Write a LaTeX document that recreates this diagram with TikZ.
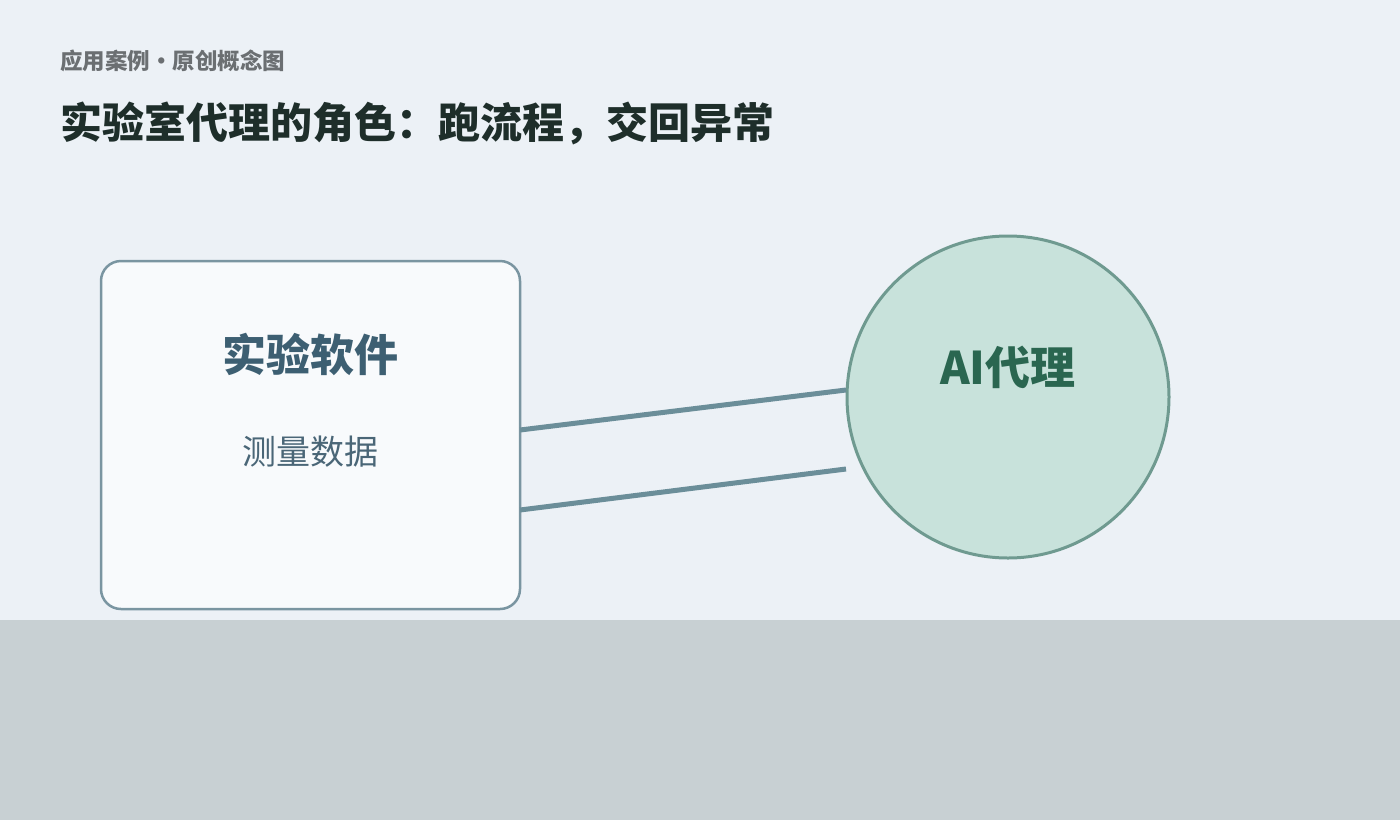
\documentclass[tikz,border=0pt]{standalone}
\usepackage{fontspec}
\setmainfont{Noto Sans CJK SC}
\usepackage{xcolor}
\usetikzlibrary{calc,positioning}
\definecolor{PageBg}{HTML}{ECF1F6}
\definecolor{BandGray}{HTML}{C8D0D3}
\definecolor{BoxFill}{HTML}{F8FAFC}
\definecolor{BoxEdge}{HTML}{7A95A1}
\definecolor{BoxInk}{HTML}{3D5F72}
\definecolor{DataInk}{HTML}{4A6677}
\definecolor{AgentFill}{HTML}{C8E2DB}
\definecolor{AgentEdge}{HTML}{6F9A90}
\definecolor{AgentInk}{HTML}{2A6650}
\definecolor{LinkInk}{HTML}{6B8E99}
\definecolor{TitleInk}{HTML}{1E2E2A}
\definecolor{KickerInk}{HTML}{6B6F72}
\newcommand{\pxfont}[1]{\fontsize{#1}{#1}\selectfont}

\begin{document}
\begin{tikzpicture}[x=1pt,y=-1pt,
    softbox/.style={draw=BoxEdge,line width=2.5pt,fill=BoxFill,rounded corners=20pt,
                    minimum width=419pt,minimum height=348pt,inner sep=0pt,outer sep=0pt},
    agent/.style={circle,draw=AgentEdge,line width=3pt,fill=AgentFill,
                  minimum size=322pt,inner sep=0pt,outer sep=0pt},
    link/.style={draw=LinkInk,line width=5pt},
    label/.style={inner sep=0pt}]
    \fill[PageBg] (0,0) rectangle (1400,820);
    \fill[BandGray] (0,620) rectangle (1400,820);

    \node[label,anchor=west,text=KickerInk] (kicker) at (60,61) {\pxfont{22.5}\bfseries 应用案例•原创概念图};
    \node[label,anchor=west,text=TitleInk] (title) at (60,123) {\pxfont{42}\bfseries 实验室代理的角色：跑流程，交回异常};

    \node[softbox] (sw) at (310.5,435) {};
    \node[label,text=BoxInk] (swname) at (310,354) {\pxfont{44}\bfseries 实验软件};
    \node[label,text=DataInk] (swdata) at (310,452) {\pxfont{34}测量数据};

    \node[agent] (ai) at (1008,397) {};
    \node[label,text=AgentInk] (ainame) at (1008,367) {\pxfont{45}\bfseries AI代理};

    \coordinate (back) at ($(ai.west)+(-1,72)$);
    \draw[link] ($(sw.east)+(0,-5)$) -- ($(ai.west)+(-1,-7)$);
    \draw[link] ($(sw.east)+(0,75)$) -- (back);
\end{tikzpicture}
\end{document}
